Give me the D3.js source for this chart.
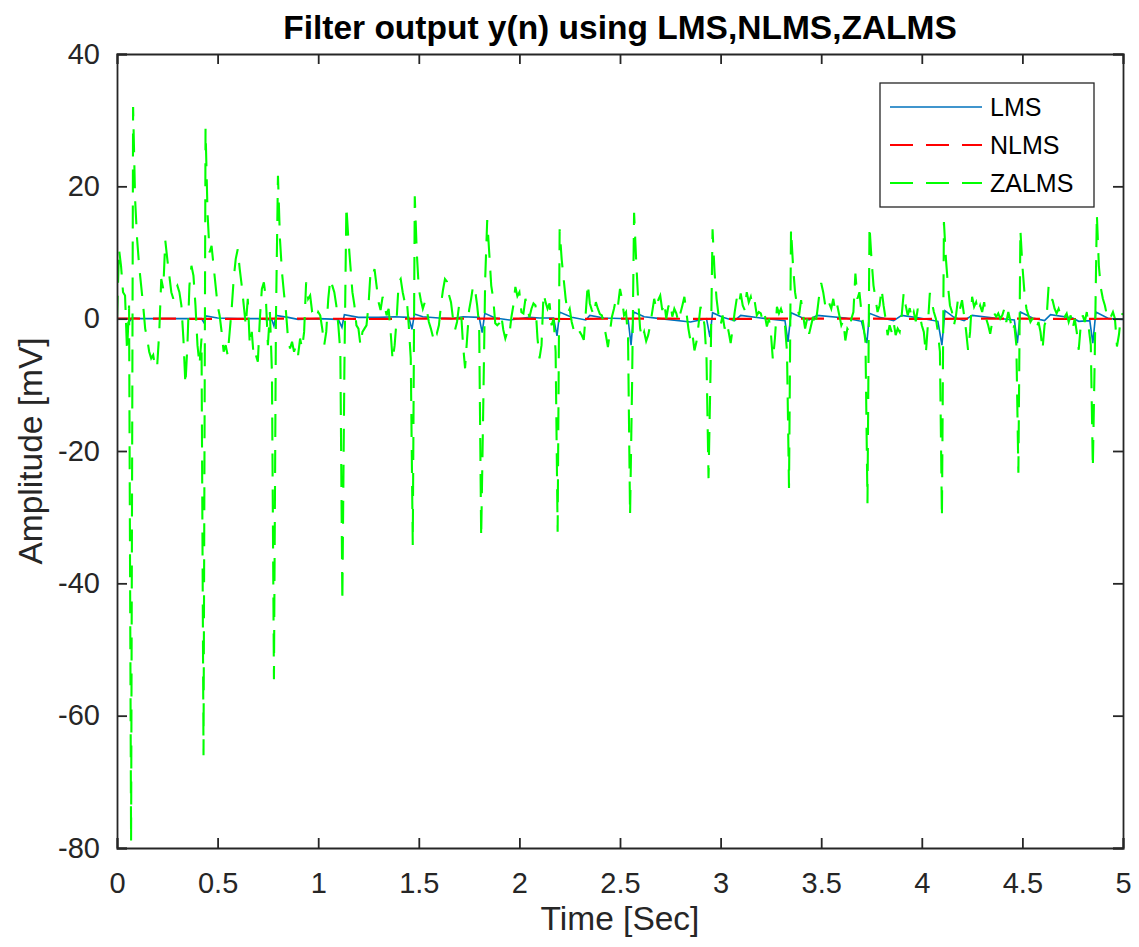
<!DOCTYPE html>
<html>
<head>
<meta charset="utf-8">
<script src="https://cdn.jsdelivr.net/npm/d3@7"></script>
<style>
  body { margin: 0; background: #fff; }
  svg { display: block; font-family: Arial, "Liberation Sans", Helvetica, sans-serif; }
</style>
</head>
<body>
<div id="chart"></div>
<script>
// ---- data ----
const xTicks = [0, 0.5, 1, 1.5, 2, 2.5, 3, 3.5, 4, 4.5, 5];
const yTicks = [-80, -60, -40, -20, 0, 20, 40];
const seriesNames = ['LMS', 'NLMS', 'ZALMS'];
const seriesColors = ['#0072BD', '#FF0000', '#00FF00'];

// ZALMS output, sampled every 10 ms (100 Hz), 0 .. 5 s
const sampleRate = 100;
const zalms = [
  0, 10.5, 8, 4, 3.5, -5, 2, -79, 32, 18,
  12, 8, 5, 2, -1.5, -3, -5, -6, -5.5, -7.5,
  -7, -2, 6, 4.5, 11.8, 9, 6.5, 4, 3, 4.5,
  5, 4, 2, -3, -10, -4, 5, 8, 6.5, 2,
  -4, -7, -3, -66, 28.7, 16, 10, 11, 8, 5,
  2, 0.5, -2, -5, -4, -5.5, -2, 1.5, 6, 9,
  10.5, 7.5, 5, 2, -1, 3, -4, -2, -6, -5.5,
  -6.5, 0, 4.5, 5.5, 3, -4, 1, -8, -54.5, 0,
  21.6, 12, 7, 3.8, 1, -3, -4.5, -3.5, -5, -4,
  -5.5, -3, -4.5, -2, 5.5, 3, 3.5, 1, 0.5, 0,
  1, 0.5, -1.5, -4, -2, 3, 6, 5, 4, 2,
  -1, -5, -42.8, -8, 17, 12, 8, 4, 2, -1,
  -1.5, -4, -2, -1.5, -1, 2, 7, 6.5, 7.5, 5,
  2.5, 1.3, 3.3, 2, 0.5, 1.5, -2, -6.3, -4, 0,
  5.5, 6, 4, 2.5, 3, -1, -6, -34.2, 18.5, 10,
  4.5, 2.8, 1.5, 2.5, 1.3, -0.5, -1.5, -2.7, -1.5, -2.2,
  -1, 2, 4.3, 6, 5.6, 3.6, 2.5, 0, -1.7, -0.5,
  2, 1, -4, -7.5, -3, 1.3, 3, 5, 4.3, 2,
  -1, -33.1, -14, 6, 14.9, 10, 5, 3, -0.7, -1,
  -0.7, 0.5, -1.7, -3, -2, -2.5, 0.2, 2, 4.8, 3.4,
  4, 1, 0.8, 3, 1.5, 0.2, 1.5, 2.3, 2, -3,
  -6, -4, 3.8, 2.5, 1.5, 2.3, -1, 0, -5, -32.2,
  13.5, 9, 6, 3, 0.8, 1.5, -0.5, -1.7, -1, -1.5,
  -2, -2.5, -3.2, 1, 5.3, 2.3, 1.3, 0.5, 2.5, 1.5,
  0.7, 0.5, -1, -2.5, -4.3, -2, 0.3, 1.5, 3, 2,
  4.5, 3, 0.5, 1, -3, -29.7, -10, 16, 9, 3,
  -1.5, -3, -2, -3.4, -2.5, -1, 1, 3, 1.5, 2.8,
  3.5, 1.3, 2.5, 0, 1.8, 2.5, 0.3, 1.5, 0.8, -0.5,
  0.8, 2, 3.3, 1, -1.5, -3.3, -2.3, -4.8, -3.5, -1,
  1.8, 1, -1, -6, -24.1, -8, 13.5, 7, 3, 0.5,
  -1, 0.5, -1.5, -0.5, -2, -3.7, -1.5, 1, 3, 2,
  3.8, 2, 1.3, 4, 2.5, 3.3, 1.8, 2.5, 0.5, 1,
  0.8, -0.5, 0.5, -1.2, 0, -2.2, -6.3, -3, 1.8, 0.8,
  1.5, 0.5, -1, -5, -25.6, 13.5, 8, 4, 2, 0.5,
  2.8, 0.5, -1.5, 0, -2.3, -1, 0.3, -1.2, 1, 3.5,
  5.4, 4, 2, 3, 2.3, 1.5, 3, 1, 2, 0.5,
  -1, -0.3, -3.3, -1.5, -2, 0, 1, 6.8, 3, 4,
  1, -1, -3.5, -27.9, 14, 9, 5, 3, 1, 2,
  4.5, 2, 0, -2.5, -1, -2, -0.5, -2.5, -1.5, -2,
  0.5, 3.9, 2, 0.5, 1.6, 0, 1, -0.4, 1.5, 0.5,
  -1, -2, -5.3, -1, 3.9, 2.5, 1, 0, -2, -5,
  -30.1, 14.6, 9, 5, 2, 1, -1, 0.5, 3, 1.5,
  2.8, 0.5, -1.8, -4.8, -2, 3.3, 1.8, 2.5, 1, 2,
  1, 2.5, 0, -1, -2.3, -0.5, 0.8, 0.3, 0.8, 0,
  0.5, 1.5, -0.5, 1, -0.3, -2, -1, -4, -23.3, 13.4,
  8, 4, 1.5, 0.5, -0.5, 0, -0.5, -1.5, -0.5, -2,
  -4.7, -1, 0, 4.8, 3, 2.8, 1.5, 0.8, 1.5, 0.5,
  1, 0.3, 0.8, -0.5, 0.5, -1.5, 0, -2, -4.7, -1,
  0.5, -0.5, 1, -1.5, -4, -22.6, -5, 15.8, 8, 4.6,
  3, 2, 0.5, 1, 0.3, 1, 0, -4.2, -2.4, 0.5, 0.8
];

// LMS output, key points (time in s, value in mV)
const lmsTime = [0, 0.05, 0.065, 0.075, 0.12, 0.25, 0.42, 0.432, 0.442, 0.5, 0.6, 0.7, 0.77, 0.78, 0.79,
  0.85, 0.9, 1.0, 1.1, 1.118, 1.13, 1.2, 1.3, 1.38, 1.45, 1.466, 1.478, 1.52, 1.6, 1.66, 1.72, 1.8,
  1.815, 1.828, 1.88, 1.95, 2.05, 2.1, 2.17, 2.187, 2.2, 2.26, 2.33, 2.35, 2.42, 2.54, 2.555, 2.568,
  2.62, 2.7, 2.85, 2.93, 2.947, 2.96, 3.01, 3.07, 3.1, 3.2, 3.32, 3.335, 3.35, 3.4, 3.44, 3.48, 3.62,
  3.7, 3.727, 3.74, 3.79, 3.86, 3.9, 3.99, 4.08, 4.1, 4.115, 4.16, 4.21, 4.25, 4.36, 4.46, 4.475, 4.49,
  4.55, 4.61, 4.64, 4.75, 4.78, 4.835, 4.85, 4.865, 4.93, 5.0];
const lmsValue = [0, 0, -0.3, 0.1, 0, 0, 0, -0.6, 0.4, 0.1, 0, 0, -0.2, -1.1, 0.5,
  0.2, -0.1, 0, -0.1, -1.3, 0.6, 0.2, 0.2, 0.3, 0.2, -1.6, 0.7, 0.3, 0.1, 0, 0.3, 0.2,
  -2.1, 0.8, 0.1, -0.2, 0.2, 0.1, 0.1, -2.6, 1, 0.2, -0.2, 0.5, 0.1, 0, -4, 1,
  0.3, 0, -0.5, 0, -2.8, 0.9, 0.2, -0.3, 0.5, 0.1, -0.3, -3.5, 0.9, 0.2, -0.2, 0.5, 0.1,
  -0.4, -3.7, 0.8, 0.2, -0.3, 0.5, 0.1, -0.4, -4, 1.2, 0.2, -0.3, 0.5, 0.1, -0.2, -3.7, 1,
  0.1, -0.3, 0.6, 0.1, -0.4, -0.3, -3.7, 1, 0, -0.1];

// NLMS output, nearly flat at zero
const nlmsTime = [0, 0.25, 0.5, 0.75, 1, 1.25, 1.5, 1.75, 2, 2.25, 2.5, 2.75, 3, 3.25, 3.5, 3.75, 4, 4.25, 4.5, 4.75, 5];
const nlmsValue = [0, 0, -0.05, 0, 0, -0.05, 0, 0, 0, -0.05, 0, 0, -0.05, 0, 0, 0, -0.05, 0, 0, -0.05, 0];

// ---- layout ----
const width = 1139, height = 947;
const margin = { top: 54, right: 16, bottom: 99, left: 117 };
const innerW = width - margin.left - margin.right;
const innerH = height - margin.top - margin.bottom;
const axisColor = '#262626';

const svg = d3.select('#chart').append('svg')
  .attr('width', width)
  .attr('height', height);

const g = svg.append('g')
  .attr('transform', `translate(${margin.left},${margin.top})`);

const x = d3.scaleLinear().domain([0, 5]).range([0, innerW]);
const y = d3.scaleLinear().domain([-80, 40]).range([innerH, 0]);

g.append('clipPath').attr('id', 'plotClip')
  .append('rect').attr('width', innerW).attr('height', innerH);

const line = d3.line().x(d => x(d[0])).y(d => y(d[1]));

const lmsData = lmsTime.map((t, i) => [t, lmsValue[i]]);
const nlmsData = nlmsTime.map((t, i) => [t, nlmsValue[i]]);
const zalmsData = zalms.map((v, i) => [i / sampleRate, v]);

const plot = g.append('g').attr('clip-path', 'url(#plotClip)');

plot.append('path')
  .datum(lmsData)
  .attr('d', line)
  .attr('fill', 'none')
  .attr('stroke', seriesColors[0])
  .attr('stroke-width', 1.6);

plot.append('path')
  .datum(nlmsData)
  .attr('d', line)
  .attr('fill', 'none')
  .attr('stroke', seriesColors[1])
  .attr('stroke-width', 2.2)
  .attr('stroke-dasharray', '23,13');

plot.append('path')
  .datum(zalmsData)
  .attr('d', line)
  .attr('fill', 'none')
  .attr('stroke', seriesColors[2])
  .attr('stroke-width', 2.1)
  .attr('stroke-dasharray', '23,13');

// ---- axes (MATLAB box style, ticks inside) ----
const fmt = d => String(d);

g.append('g')
  .attr('transform', `translate(0,${innerH})`)
  .call(d3.axisBottom(x).tickValues(xTicks).tickFormat(fmt).tickSize(-10).tickPadding(24));

g.append('g')
  .call(d3.axisLeft(y).tickValues(yTicks).tickFormat(fmt).tickSize(-10).tickPadding(17));

g.append('g')
  .call(d3.axisTop(x).tickValues(xTicks).tickFormat('').tickSize(-10));

g.append('g')
  .attr('transform', `translate(${innerW},0)`)
  .call(d3.axisRight(y).tickValues(yTicks).tickFormat('').tickSize(-10));

g.selectAll('.domain, .tick line')
  .attr('stroke', axisColor)
  .attr('stroke-width', 1.8);

g.selectAll('.tick text')
  .attr('fill', axisColor)
  .style('font-size', '29px');

// ---- labels ----
svg.append('text')
  .attr('x', margin.left + innerW / 2)
  .attr('y', 39)
  .attr('text-anchor', 'middle')
  .style('font-size', '33.5px')
  .style('font-weight', 'bold')
  .attr('fill', '#000')
  .text('Filter output y(n) using LMS,NLMS,ZALMS');

svg.append('text')
  .attr('x', margin.left + innerW / 2)
  .attr('y', 930)
  .attr('text-anchor', 'middle')
  .style('font-size', '33.5px')
  .attr('fill', axisColor)
  .text('Time [Sec]');

svg.append('text')
  .attr('transform', `translate(42,${margin.top + innerH / 2}) rotate(-90)`)
  .attr('text-anchor', 'middle')
  .style('font-size', '33.5px')
  .attr('fill', axisColor)
  .text('Amplitude [mV]');

// ---- legend ----
const legend = svg.append('g').attr('transform', 'translate(880,83)');
legend.append('rect')
  .attr('width', 214)
  .attr('height', 124)
  .attr('fill', '#fff')
  .attr('stroke', axisColor)
  .attr('stroke-width', 1.3);

const dashes = [null, '23,13', '23,13'];
seriesNames.forEach((name, i) => {
  const row = legend.append('g').attr('transform', `translate(0,${24 + i * 38})`);
  row.append('line')
    .attr('x1', 10).attr('x2', 102)
    .attr('stroke', seriesColors[i])
    .attr('stroke-width', i === 0 ? 1.6 : 2)
    .attr('stroke-dasharray', dashes[i]);
  row.append('text')
    .attr('x', 110)
    .attr('dy', '0.35em')
    .style('font-size', '25px')
    .attr('fill', '#000')
    .text(name);
});
</script>
</body>
</html>
